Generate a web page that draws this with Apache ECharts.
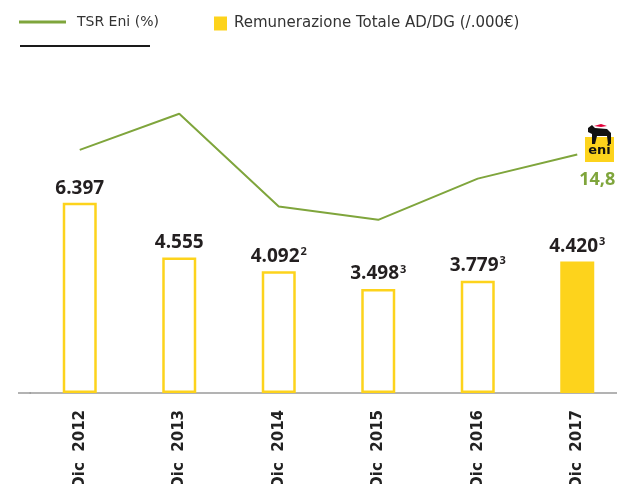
<!DOCTYPE html>
<html>
<head>
<meta charset="utf-8">
<script src="https://cdn.jsdelivr.net/npm/echarts@6/dist/echarts.min.js"></script>
<style>
  html, body { margin: 0; padding: 0; background: #ffffff; }
  #chart { width: 617px; height: 484px; }
</style>
</head>
<body>
<div id="chart"></div>
<script>
var categories = ["Dic 2012", "Dic 2013", "Dic 2014", "Dic 2015", "Dic 2016", "Dic 2017"];
var remunerazione = [6397, 4555, 4092, 3498, 3779, 4420];
var note = ["", "", "2", "3", "3", "3"];
var tsr = [15.9, 24.6, 2.3, -0.9, 9.0, 14.8];

var yellow = "#fdd31c";
var green = "#7fa53c";

function fmt(n) {
  return String(n).replace(/\B(?=(\d{3})+(?!\d))/g, ".");
}

var chart = echarts.init(document.getElementById("chart"));

var barData = remunerazione.map(function (v, i) {
  if (i === remunerazione.length - 1) {
    return { value: v, itemStyle: { color: yellow } };
  }
  return v;
});

// only the last TSR point carries a label
var lineData = tsr.map(function (v, i) {
  if (i === tsr.length - 1) {
    return {
      value: v,
      label: {
        show: true,
        position: "bottom",
        offset: [20, 11],
        formatter: function (p) { return String(p.value).replace(".", ","); },
        fontFamily: "Open Sans",
        fontWeight: "bold",
        fontSize: 18,
        color: green
      }
    };
  }
  return v;
});

var option = {
  animation: false,
  legend: [
    {
      left: 19, top: 15, padding: 0,
      data: [{ name: "TSR Eni (%)", icon: "rect" }],
      itemWidth: 47, itemHeight: 3,
      textStyle: { fontFamily: "DejaVu Sans", fontSize: 14, color: "#333", padding: [0, 0, 0, 6] }
    },
    {
      left: 214, top: 16, padding: 0,
      data: [{ name: "Remunerazione Totale AD/DG (/.000€)", icon: "rect", itemStyle: { color: yellow, borderWidth: 0 } }],
      itemWidth: 13, itemHeight: 14,
      textStyle: { fontFamily: "DejaVu Sans", fontSize: 15, color: "#333", padding: [0, 0, 0, 2] }
    }
  ],
  grid: { left: 30, right: -10, top: 60, bottom: 91, outerBoundsMode: "none" },
  xAxis: {
    type: "category",
    data: categories,
    axisLine: { lineStyle: { color: "#9a9a9a", width: 1.5 } },
    axisTick: { show: false },
    axisLabel: {
      rotate: 90,
      margin: 17,
      fontFamily: "DejaVu Sans",
      fontWeight: "bold",
      fontSize: 15,
      color: "#222",
      formatter: function (v) { return v.replace(" ", "  "); }
    }
  },
  yAxis: [
    { type: "value", min: 0, max: 11200, show: false, splitLine: { show: false } },
    { type: "value", min: -42.5, max: 37.5, show: false, splitLine: { show: false } }
  ],
  series: [
    {
      name: "Remunerazione Totale AD/DG (/.000€)",
      type: "bar",
      data: barData,
      barWidth: 34,
      itemStyle: { color: "#ffffff", borderColor: yellow, borderWidth: 2.5 },
      label: {
        show: true,
        position: "top",
        distance: 5,
        formatter: function (p) {
          var s = note[p.dataIndex];
          return "{v|" + fmt(p.value) + "}" + (s ? "{s|" + s + "}" : "");
        },
        rich: {
          v: { fontFamily: "Open Sans", fontWeight: "bold", fontSize: 19, color: "#231f20" },
          s: { fontFamily: "Open Sans", fontWeight: "bold", fontSize: 11, color: "#231f20", padding: [0, 0, 9, 1] }
        }
      }
    },
    {
      name: "TSR Eni (%)",
      type: "line",
      yAxisIndex: 1,
      data: lineData,
      clip: false,
      symbol: "circle",
      symbolSize: 0,
      lineStyle: { color: green, width: 2 },
      itemStyle: { color: green }
    }
  ],
  graphic: [
    { type: "line", shape: { x1: 20, y1: 46, x2: 150, y2: 46 }, style: { stroke: "#1a1a1a", lineWidth: 2 } },
    { type: "line", shape: { x1: 18, y1: 393, x2: 31, y2: 393 }, style: { stroke: "#9a9a9a", lineWidth: 1.5 } },
    {
      type: "group", left: 585, top: 124,
      children: [
        { type: "rect", shape: { x: 0, y: 14, width: 29, height: 25 }, style: { fill: yellow } },
        { type: "text", style: { x: 14.5, y: 28, text: "eni", fontFamily: "DejaVu Sans", fontWeight: "bold", fontSize: 13, fill: "#111", align: "center", verticalAlign: "middle" } },
        { type: "polygon", shape: { points: [[3, 5], [7, 2], [10, 5], [22, 6], [26, 10], [26, 21], [23, 21], [22, 13], [12, 13], [10, 21], [7, 21], [7, 11], [3, 9]] }, style: { fill: "#111" } },
        { type: "polygon", shape: { points: [[9, 3], [16, 1], [22, 3], [16, 4]] }, style: { fill: "#e4003a" } }
      ]
    }
  ]
};

chart.setOption(option);
</script>
</body>
</html>
